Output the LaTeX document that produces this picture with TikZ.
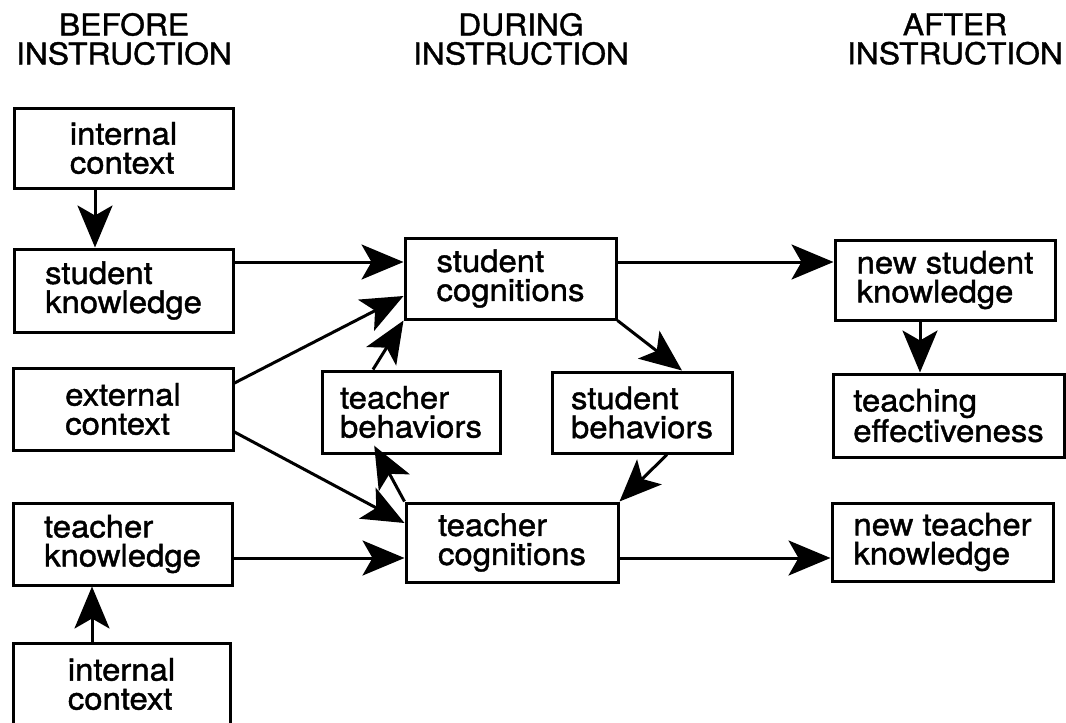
\documentclass[tikz,border=0pt]{standalone}
\usepackage{fontspec}
\setmainfont{TeX Gyre Heros}[FakeStretch=1.06,FakeBold=1.3]
\usetikzlibrary{arrows.meta}

\tikzset{
  box/.style={draw, line width=3pt, align=left, inner sep=0pt,
    font=\fontsize{31}{29}\selectfont},
  arr/.style={line width=3pt, -{Stealth[length=42pt,width=35pt,inset=10pt]}},
  head/.style={align=center, inner sep=0pt, font=\fontsize{30}{29}\selectfont}
}

\begin{document}
\begin{tikzpicture}[x=1pt, y=-1pt]
 \useasboundingbox (0,0) rectangle (1066,723);

 % headings
 \node[head] (hbefore) at (124,39) {BEFORE\\INSTRUCTION};
 \node[head] (hduring) at (521,39) {DURING\\INSTRUCTION};
 \node[head] (hafter)  at (955,39) {AFTER\\INSTRUCTION};

 % before instruction
 \node[box, minimum width=219pt, minimum height=80pt] (ictop) at (123.5,148) {internal\\context};
 \node[box, minimum width=219pt, minimum height=83pt] (sknow) at (123.5,290.5) {student\\knowledge};
 \node[box, minimum width=220pt, minimum height=82pt] (econt) at (123,409) {external\\context};
 \node[box, minimum width=219pt, minimum height=82pt] (tknow) at (122.5,544) {teacher\\knowledge};
 \node[box, minimum width=217pt, minimum height=82pt] (icbot) at (121.5,684) {internal\\context};

 % during instruction
 \node[box, minimum width=211pt, minimum height=81pt] (scog) at (510.5,278.5) {student\\cognitions};
 \node[box, minimum width=178pt, minimum height=82pt] (tbeh) at (411,412) {teacher\\behaviors};
 \node[box, minimum width=180pt, minimum height=81pt] (sbeh) at (642,412.5) {student\\behaviors};
 \node[box, minimum width=212pt, minimum height=79pt] (tcog) at (512,542.5) {teacher\\cognitions};

 % after instruction
 \node[box, minimum width=220pt, minimum height=80pt] (nsknow) at (945,280) {new student\\knowledge};
 \node[box, minimum width=231pt, minimum height=83pt] (teff) at (948.5,415.5) {teaching\\effectiveness};
 \node[box, minimum width=221pt, minimum height=78pt] (ntknow) at (942.5,542) {new teacher\\knowledge};

 \draw[arr] (ictop.south -| 95,0) -- (sknow.north -| 95,0);
 \draw[arr] (icbot.north -| 92,0) -- (tknow.south -| 92,0);
 \draw[arr] (sknow.east |- 0,262) -- (scog.west |- 0,262);
 \draw[arr] (econt.east |- 0,383) -- (scog.west |- 0,296);
 \draw[arr] (econt.east |- 0,432) -- (tcog.west |- 0,523);
 \draw[arr] (tknow.east |- 0,558) -- (tcog.west |- 0,558);
 \draw[arr] (tbeh.north -| 373,0) -- (scog.south west);
 \draw[arr, shorten >=-10pt] (tcog.north west) -- (tbeh.south -| 379,0);
 \draw[arr] (scog.south east) -- (sbeh.north -| 682,0);
 \draw[arr] (sbeh.south -| 667,0) -- (tcog.north east);
 \draw[arr] (scog.east |- 0,262) -- (nsknow.west |- 0,262);
 \draw[arr] (nsknow.south -| 920,0) -- (teff.north -| 920,0);
 \draw[arr] (tcog.east |- 0,558) -- (ntknow.west |- 0,558);
\end{tikzpicture}
\end{document}
